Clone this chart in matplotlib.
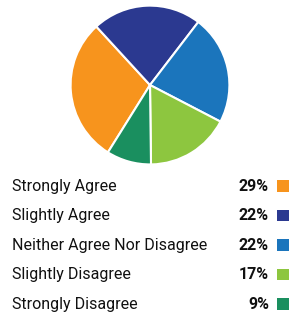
import matplotlib
matplotlib.use("Agg")
import matplotlib.pyplot as plt
from matplotlib.patches import Rectangle
from matplotlib import font_manager

# survey answers, in legend order
labels = ["Strongly Agree", "Slightly Agree", "Neither Agree Nor Disagree",
          "Slightly Disagree", "Strongly Disagree"]
shares = [29, 22, 22, 17, 9]
colors = ["#F7941D", "#2B3990", "#1B75BC", "#8DC63F", "#1A8F5F"]

names = sorted({f.name for f in font_manager.fontManager.ttflist if "Roboto" in f.name})
print(names)

plt.rcParams['font.family'] = ['Roboto', 'DejaVu Sans']

fig = plt.figure(figsize=(3.0, 3.23), dpi=100)

# pie on top
ax = fig.add_axes([0.23, 0.486, 0.54, 0.5015])
ax.pie(shares, colors=colors, startangle=-122, counterclock=False,
       wedgeprops=dict(edgecolor="white", linewidth=1.5))
ax.set_xlim(-1.02, 1.02)
ax.set_ylim(-1.02, 1.02)
ax.set_aspect("equal")
ax.axis("off")

# legend table below
lg = fig.add_axes([0.0, 0.013, 1.0, 0.4567])
lg.set_xlim(0, 300)
lg.set_ylim(len(labels) - 0.5, -0.5)
lg.axis("off")
for i, (lab, val, col) in enumerate(zip(labels, shares, colors)):
    lg.text(12, i, lab, fontsize=11.5, va="center", ha="left", color="#111111")
    lg.text(269, i, f"{val}%", fontsize=11.5, fontweight="bold", va="center",
            ha="right", color="#111111")
    lg.add_patch(Rectangle((277, i - 0.19), 12, 0.38, facecolor=col,
                           edgecolor="none"))

fig.savefig("out.png", dpi=100)
